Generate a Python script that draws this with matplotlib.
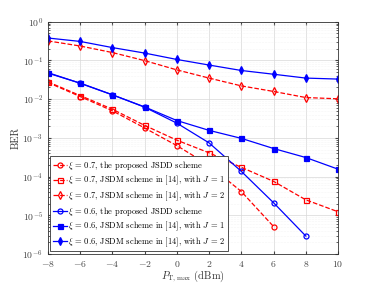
import matplotlib
matplotlib.use("Agg")
import matplotlib.pyplot as plt
import numpy as np

plt.rcParams['font.family'] = 'serif'
plt.rcParams['font.serif'] = ['cmr10', 'DejaVu Serif']
plt.rcParams['mathtext.fontset'] = 'cm'
plt.rcParams['axes.formatter.use_mathtext'] = True

p = [-8, -6, -4, -2, 0, 2, 4, 6, 8, 10]

red_prop = [0.027, 0.0117, 0.005, 0.0018, 0.00063, 0.000195, 4.1e-5, 5.1e-6]
red_j1 = [0.028, 0.0124, 0.0055, 0.0021, 0.00087, 0.00041, 0.000173, 7.5e-5, 2.5e-5, 1.23e-5]
red_j2 = [0.32, 0.236, 0.16, 0.099, 0.057, 0.035, 0.022, 0.0158, 0.011, 0.0102]
blue_prop = [0.047, 0.026, 0.013, 0.0062, 0.0024, 0.00074, 0.000136, 2.1e-5, 2.9e-6]
blue_j1 = [0.0485, 0.0257, 0.0129, 0.0063, 0.0028, 0.00156, 0.00097, 0.00053, 0.00031, 0.000155]
blue_j2 = [0.38, 0.31, 0.215, 0.155, 0.106, 0.076, 0.055, 0.044, 0.035, 0.033]

labels = [
    r'$\xi$ = 0.7, the proposed JSDD scheme',
    r'$\xi$ = 0.7, JSDM scheme in [14], with $J$ = 1',
    r'$\xi$ = 0.7, JSDM scheme in [14], with $J$ = 2',
    r'$\xi$ = 0.6, the proposed JSDD scheme',
    r'$\xi$ = 0.6, JSDM scheme in [14], with $J$ = 1',
    r'$\xi$ = 0.6, JSDM scheme in [14], with $J$ = 2',
]

fig = plt.figure(figsize=(3.74, 2.86), dpi=100)
ax = fig.add_axes([0.128, 0.112, 0.776, 0.812])

red = '#ff0000'
blue = '#0000ff'
kw = dict(linewidth=0.9, markersize=3.6, markeredgewidth=0.9)
ax.semilogy(p[:len(red_prop)], red_prop, '--', color=red, marker='o', mfc='none', label=labels[0], **kw)
ax.semilogy(p, red_j1, '--', color=red, marker='s', mfc='none', label=labels[1], **kw)
ax.semilogy(p, red_j2, '--', color=red, marker='d', mfc='none', label=labels[2], **kw)
ax.semilogy(p[:len(blue_prop)], blue_prop, '-', color=blue, marker='o', mfc='none', label=labels[3], **kw)
ax.semilogy(p, blue_j1, '-', color=blue, marker='s', mfc=blue, label=labels[4], **kw)
ax.semilogy(p, blue_j2, '-', color=blue, marker='d', mfc=blue, label=labels[5], **kw)

ax.set_xlim(-8, 10)
ax.set_ylim(1e-6, 1)
ax.set_xticks(p)
ax.grid(True, which='major', color='#d8d8d8', linewidth=0.5)
ax.grid(True, which='minor', color='#ececec', linewidth=0.4, linestyle=':')
ax.tick_params(labelsize=7, colors='#444444', direction='in', which='both', top=True, right=True)
ax.tick_params(which='minor', length=1.5)
ax.tick_params(which='major', length=2.5)
for s in ax.spines.values():
    s.set_color('#333333')
    s.set_linewidth(0.6)
ax.set_xlabel(r'$P_{\mathrm{T,max}}$ (dBm)', fontsize=7.5, color='#333333', labelpad=0)
ax.set_ylabel('BER', fontsize=7.5, color='#333333', labelpad=1)

leg = ax.legend(loc='lower left', fontsize=6.1, handlelength=1.6, handletextpad=0.2,
                borderpad=0.3, labelspacing=0.25, fancybox=False, edgecolor='#333333',
                framealpha=1, borderaxespad=0.3)
leg.get_frame().set_linewidth(0.6)

fig.savefig('out.png', dpi=100)
